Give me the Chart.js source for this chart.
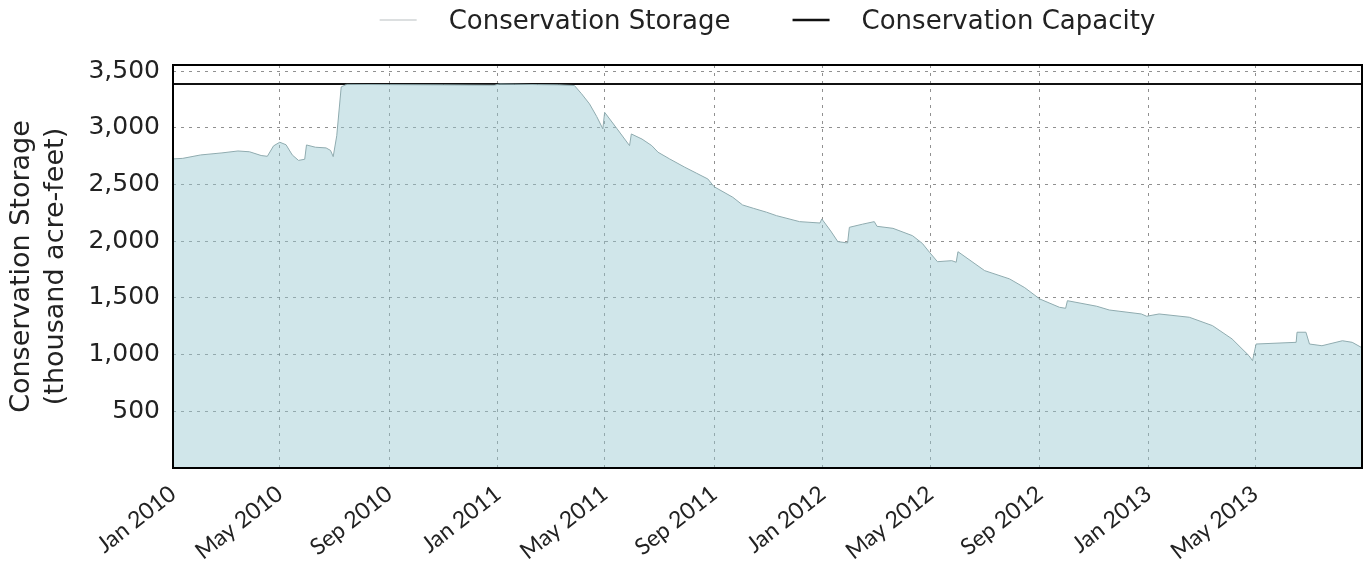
<!DOCTYPE html>
<html>
<head>
<meta charset="utf-8">
<script src="https://cdn.jsdelivr.net/npm/chart.js@4.4.1/dist/chart.umd.min.js"></script>
<style>
  html, body { margin: 0; padding: 0; background: #ffffff; }
  #wrap { width: 1366px; height: 565px; }
</style>
</head>
<body>
<div id="wrap"><canvas id="chart" width="1366" height="565"></canvas></div>
<script>
// ---------------- data ----------------
const storageDates = [
  '2010-01-01','2010-01-12','2010-02-01','2010-02-25','2010-03-15','2010-03-28','2010-04-10','2010-04-17',
  '2010-04-24','2010-05-01','2010-05-08','2010-05-15','2010-05-22','2010-05-29','2010-05-31','2010-06-10',
  '2010-06-22','2010-06-27','2010-06-30','2010-07-04','2010-07-09','2010-07-15','2010-09-01','2010-11-01',
  '2010-12-28','2011-01-03','2011-01-20','2011-02-15','2011-03-10','2011-03-28','2011-04-05','2011-04-14',
  '2011-04-22','2011-04-29','2011-05-01','2011-05-15','2011-05-29','2011-05-31','2011-06-12','2011-06-23',
  '2011-06-30','2011-07-13','2011-07-30','2011-08-12','2011-08-25','2011-09-01','2011-09-22','2011-10-03',
  '2011-10-15','2011-10-30','2011-11-10','2011-12-06','2011-12-29','2011-12-31','2012-01-10','2012-01-18',
  '2012-01-29','2012-01-31','2012-02-15','2012-02-28','2012-03-02','2012-03-20','2012-04-11','2012-04-22',
  '2012-04-30','2012-05-09','2012-05-25','2012-05-30','2012-06-01','2012-07-01','2012-07-29','2012-08-15',
  '2012-09-01','2012-09-23','2012-09-30','2012-10-02','2012-11-04','2012-11-18','2012-12-24','2012-12-30',
  '2013-01-13','2013-02-16','2013-03-14','2013-04-05','2013-04-24','2013-04-28','2013-05-02','2013-06-16',
  '2013-06-17','2013-06-27','2013-07-01','2013-07-15','2013-08-07','2013-08-18','2013-08-29'
];
const storageValues = [
  2725, 2730, 2760, 2778, 2795, 2788, 2755, 2748,
  2840, 2872, 2850, 2760, 2712, 2722, 2848, 2828,
  2822, 2800, 2745, 2930, 3360, 3382, 3380, 3378,
  3375, 3386, 3384, 3380, 3378, 3372, 3300, 3210,
  3100, 2990, 3136, 2990, 2842, 2945, 2900, 2842,
  2784, 2725, 2652, 2600, 2548, 2480, 2387, 2319,
  2290, 2255, 2225, 2172, 2160, 2196, 2090, 1996,
  1984, 2122, 2150, 2172, 2131, 2113, 2048, 1980,
  1902, 1819, 1828, 1814, 1907, 1740, 1667, 1590,
  1490, 1417, 1408, 1475, 1426, 1393, 1358, 1338,
  1358, 1329, 1255, 1138, 990, 946, 1093, 1108,
  1197, 1197, 1093, 1078, 1122, 1108, 1060
];
const capacityDates = ['2010-01-01', '2013-08-29'];
const capacityValues = [3385, 3385];
const tickDates = ['2010-01-01','2010-05-01','2010-09-01','2011-01-01','2011-05-01','2011-09-01',
                   '2012-01-01','2012-05-01','2012-09-01','2013-01-01','2013-05-01'];
const tickLabels = ['Jan 2010','May 2010','Sep 2010','Jan 2011','May 2011','Sep 2011',
                    'Jan 2012','May 2012','Sep 2012','Jan 2013','May 2013'];
const yTickValues = [0, 500, 1000, 1500, 2000, 2500, 3000, 3500];
const yTickLabels = ['', '500', '1,000', '1,500', '2,000', '2,500', '3,000', '3,500'];
const seriesLabels = ['Conservation Storage', 'Conservation Capacity'];
const axisTitle = ['Conservation Storage', '(thousand acre-feet)'];

// ---------------- helpers ----------------
const ORIGIN = Date.UTC(2010, 0, 1);
function dayOf(s) {
  const [y, m, d] = s.split('-').map(Number);
  return (Date.UTC(y, m - 1, d) - ORIGIN) / 86400000;
}
const tickDays = tickDates.map(dayOf);
const storagePoints = storageDates.map((d, i) => ({ x: dayOf(d), y: storageValues[i] }));
const capacityPoints = capacityDates.map((d, i) => ({ x: dayOf(d), y: capacityValues[i] }));

const legendPlugin = {
  id: 'topLegend',
  afterDraw(chart, args, opts) {
    const ctx = chart.ctx, ca = chart.chartArea;
    const ds = chart.data.datasets;
    ctx.save();
    ctx.font = opts.font;
    const sample = 37, gap = 32, between = 62;
    const items = ds.map((d, i) => ({ text: d.label, color: opts.colors[i], lw: opts.widths[i], tw: ctx.measureText(d.label).width }));
    let total = 0;
    items.forEach((it, i) => { total += sample + gap + it.tw + (i ? between : 0); });
    let x = (ca.left + ca.right) / 2 - total / 2;
    const yLine = 20, yText = 29;
    items.forEach((it) => {
      ctx.strokeStyle = it.color;
      ctx.lineWidth = it.lw;
      ctx.beginPath(); ctx.moveTo(x, yLine); ctx.lineTo(x + sample, yLine); ctx.stroke();
      ctx.fillStyle = '#222222';
      ctx.textAlign = 'left'; ctx.textBaseline = 'alphabetic';
      ctx.fillText(it.text, x + sample + gap, yText);
      x += sample + gap + it.tw + between;
    });
    ctx.restore();
  }
};

const framePlugin = {
  id: 'frame',
  afterDraw(chart) {
    const ctx = chart.ctx, a = chart.chartArea;
    ctx.save();
    ctx.strokeStyle = '#000000';
    ctx.lineWidth = 2;
    ctx.strokeRect(a.left, a.top, a.right - a.left, a.bottom - a.top);
    ctx.restore();
  }
};

const gridColor = 'rgba(70,70,70,0.6)';

new Chart(document.getElementById('chart'), {
  type: 'line',
  data: {
    datasets: [
      {
        label: seriesLabels[0],
        data: storagePoints,
        borderColor: '#8fabaf',
        borderWidth: 1,
        backgroundColor: 'rgba(150,200,208,0.45)',
        fill: 'origin',
        pointRadius: 0,
        tension: 0
      },
      {
        label: seriesLabels[1],
        data: capacityPoints,
        borderColor: '#111111',
        borderWidth: 2,
        fill: false,
        pointRadius: 0,
        tension: 0
      }
    ]
  },
  options: {
    responsive: false,
    animation: false,
    devicePixelRatio: 1,
    layout: { padding: { left: 0, right: 4, top: 65, bottom: 0 } },
    plugins: {
      legend: { display: false },
      tooltip: { enabled: false },
      topLegend: {
        font: '26px "DejaVu Sans"',
        colors: ['#dcdfe0', '#111111'],
        widths: [2, 2.5]
      }
    },
    scales: {
      x: {
        type: 'linear',
        min: 0,
        max: dayOf('2013-08-29'),
        afterBuildTicks: (scale) => { scale.ticks = tickDays.map(v => ({ value: v })); },
        afterFit: (scale) => { scale.height = 97; },
        grid: { color: gridColor, lineWidth: 1, drawTicks: false },
        border: { display: false, dash: [3, 5] },
        ticks: {
          autoSkip: false,
          maxRotation: 38,
          minRotation: 38,
          padding: 12,
          color: '#222222',
          font: { family: 'Lato', size: 23 },
          callback: (v) => { const i = tickDays.indexOf(v); return i >= 0 ? tickLabels[i] : ''; }
        }
      },
      y: {
        type: 'linear',
        min: 0,
        max: 3553,
        afterBuildTicks: (scale) => { scale.ticks = yTickValues.map(v => ({ value: v })); },
        afterFit: (scale) => { scale.width = 173; },
        grid: { color: gridColor, lineWidth: 1, drawTicks: false },
        border: { display: false, dash: [3, 5] },
        ticks: {
          autoSkip: false,
          padding: 13,
          color: '#222222',
          font: { family: 'DejaVu Sans', size: 25 },
          callback: (v) => { const i = yTickValues.indexOf(v); return i >= 0 ? yTickLabels[i] : ''; }
        },
        title: {
          display: true,
          text: axisTitle,
          color: '#222222',
          font: { family: 'DejaVu Sans', size: 27, lineHeight: 1.25 },
          padding: { top: 5, bottom: 0 }
        }
      }
    }
  },
  plugins: [legendPlugin, framePlugin]
});
</script>
</body>
</html>
